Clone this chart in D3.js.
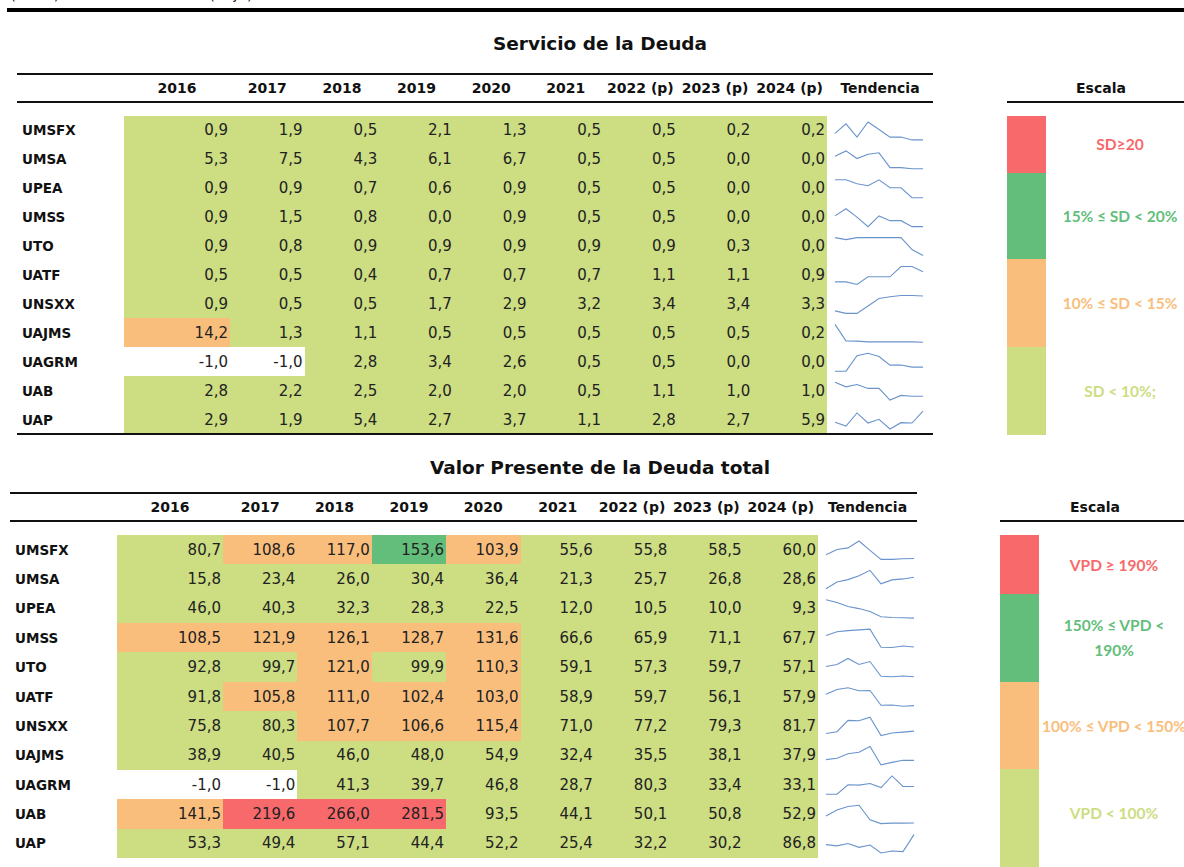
<!DOCTYPE html>
<html>
<head>
<meta charset="utf-8">
<script src="https://cdn.jsdelivr.net/npm/d3@7"></script>
<style>
  body { margin: 0; background: #fff; }
  svg { display: block; font-family: "DejaVu Sans", sans-serif; }
  .lbl { font-weight: bold; font-size: 13.5px; fill: #111; }
  .hdr { font-weight: bold; font-size: 14px; fill: #111; }
  .val { font-size: 15px; fill: #222; }
  .title { font-weight: bold; font-size: 18.5px; fill: #111; }
  .scl { font-family: Lato, sans-serif; font-weight: bold; font-size: 15.5px; }
</style>
</head>
<body>
<svg id="chart" width="1184" height="867"></svg>
<script>
// Data
var universities = ['UMSFX', 'UMSA', 'UPEA', 'UMSS', 'UTO', 'UATF', 'UNSXX', 'UAJMS', 'UAGRM', 'UAB', 'UAP'];
var years = ['2016', '2017', '2018', '2019', '2020', '2021', '2022 (p)', '2023 (p)', '2024 (p)'];

// Servicio de la Deuda (%)
var sdValues = [
    [0.9, 1.9, 0.5, 2.1, 1.3, 0.5, 0.5, 0.2, 0.2],
    [5.3, 7.5, 4.3, 6.1, 6.7, 0.5, 0.5, 0.0, 0.0],
    [0.9, 0.9, 0.7, 0.6, 0.9, 0.5, 0.5, 0.0, 0.0],
    [0.9, 1.5, 0.8, 0.0, 0.9, 0.5, 0.5, 0.0, 0.0],
    [0.9, 0.8, 0.9, 0.9, 0.9, 0.9, 0.9, 0.3, 0.0],
    [0.5, 0.5, 0.4, 0.7, 0.7, 0.7, 1.1, 1.1, 0.9],
    [0.9, 0.5, 0.5, 1.7, 2.9, 3.2, 3.4, 3.4, 3.3],
    [14.2, 1.3, 1.1, 0.5, 0.5, 0.5, 0.5, 0.5, 0.2],
    [-1.0, -1.0, 2.8, 3.4, 2.6, 0.5, 0.5, 0.0, 0.0],
    [2.8, 2.2, 2.5, 2.0, 2.0, 0.5, 1.1, 1.0, 1.0],
    [2.9, 1.9, 5.4, 2.7, 3.7, 1.1, 2.8, 2.7, 5.9]
];

// Valor Presente de la Deuda total (%)
var vpdValues = [
    [80.7, 108.6, 117.0, 153.6, 103.9, 55.6, 55.8, 58.5, 60.0],
    [15.8, 23.4, 26.0, 30.4, 36.4, 21.3, 25.7, 26.8, 28.6],
    [46.0, 40.3, 32.3, 28.3, 22.5, 12.0, 10.5, 10.0, 9.3],
    [108.5, 121.9, 126.1, 128.7, 131.6, 66.6, 65.9, 71.1, 67.7],
    [92.8, 99.7, 121.0, 99.9, 110.3, 59.1, 57.3, 59.7, 57.1],
    [91.8, 105.8, 111.0, 102.4, 103.0, 58.9, 59.7, 56.1, 57.9],
    [75.8, 80.3, 107.7, 106.6, 115.4, 71.0, 77.2, 79.3, 81.7],
    [38.9, 40.5, 46.0, 48.0, 54.9, 32.4, 35.5, 38.1, 37.9],
    [-1.0, -1.0, 41.3, 39.7, 46.8, 28.7, 80.3, 33.4, 33.1],
    [141.5, 219.6, 266.0, 281.5, 93.5, 44.1, 50.1, 50.8, 52.9],
    [53.3, 49.4, 57.1, 44.4, 52.2, 25.4, 32.2, 30.2, 86.8]
];

// Scale thresholds and labels (top to bottom: red, green, orange, light green)
var sdThresholds = [0, 10, 15, 20];
var vpdThresholds = [0, 100, 150, 190];
var sdScaleLabels = [['SD≥20'], ['15% ≤ SD <  20%'], ['10% ≤ SD < 15%'], ['SD < 10%;']];
var vpdScaleLabels = [['VPD ≥ 190%'], ['150% ≤ VPD <', '190%'], ['100% ≤ VPD < 150%'], ['VPD < 100%']];

var colors = {red: '#F8696B', green: '#63BE7B', orange: '#F9BE7C', light: '#CCDD82'};
var scaleColors = [colors.red, colors.green, colors.orange, colors.light];

var svg = d3.select('#chart');

var fmt = d3.formatLocale({decimal: ',', thousands: '.', grouping: [3], currency: ['', ''], minus: '-'}).format('.1f');

// cut-off heading at the very top
svg.append('text')
    .attr('x', 10)
    .attr('y', -1)
    .attr('class', 'val')
    .text('(En %)   Ratios de la deuda (baja)');

svg.append('line')
    .attr('x1', 7).attr('x2', 1184)
    .attr('y1', 10).attr('y2', 10)
    .attr('stroke', '#000')
    .attr('stroke-width', 4);

function drawTable(opt) {
    var g = svg.append('g');

    // column edges: wide first column, then equal columns
    var colX = d3.scaleLinear()
        .domain([0, 1, years.length])
        .range([opt.fillX, opt.fillX + 106, opt.fillEnd]);

    var rowY = d3.scaleBand()
        .domain(universities)
        .range([opt.rowTop, opt.rowBottom]);

    var color = d3.scaleThreshold()
        .domain(opt.thresholds)
        .range(['#ffffff', colors.light, colors.orange, colors.green, colors.red]);

    // title
    g.append('text')
        .attr('class', 'title')
        .attr('x', 600)
        .attr('y', opt.titleY)
        .attr('text-anchor', 'middle')
        .attr('dominant-baseline', 'central')
        .text(opt.title);

    // header rules
    g.append('line')
        .attr('x1', opt.lineX).attr('x2', opt.tendEnd)
        .attr('y1', opt.headTop).attr('y2', opt.headTop)
        .attr('stroke', '#111').attr('stroke-width', 2);
    g.append('line')
        .attr('x1', opt.lineX).attr('x2', opt.tendEnd)
        .attr('y1', opt.headTop + 28).attr('y2', opt.headTop + 28)
        .attr('stroke', '#111').attr('stroke-width', 2);

    // header labels
    g.selectAll('.hdr-year')
        .data(years)
        .enter()
        .append('text')
        .attr('class', 'hdr')
        .attr('x', (d, i) => (colX(i) + colX(i + 1)) / 2)
        .attr('y', opt.headTop + 14)
        .attr('text-anchor', 'middle')
        .attr('dominant-baseline', 'central')
        .text(d => d);

    g.append('text')
        .attr('class', 'hdr')
        .attr('x', (opt.fillEnd + opt.tendEnd) / 2)
        .attr('y', opt.headTop + 14)
        .attr('text-anchor', 'middle')
        .attr('dominant-baseline', 'central')
        .text('Tendencia');

    // rows
    var rows = g.selectAll('.row')
        .data(universities)
        .enter()
        .append('g')
        .attr('class', 'row');

    rows.append('text')
        .attr('class', 'lbl')
        .attr('x', opt.lineX + 5)
        .attr('y', d => rowY(d) + rowY.bandwidth() / 2)
        .attr('dominant-baseline', 'central')
        .text(d => d);

    rows.each(function(name, r) {
        var rowG = d3.select(this);
        var vals = opt.values[r];
        var y0 = Math.round(rowY(name));
        var y1 = Math.round(rowY(name) + rowY.bandwidth());

        rowG.selectAll('rect')
            .data(vals)
            .enter()
            .append('rect')
            .attr('x', (d, i) => Math.round(colX(i)))
            .attr('y', y0)
            .attr('width', (d, i) => Math.round(colX(i + 1)) - Math.round(colX(i)))
            .attr('height', y1 - y0)
            .attr('fill', d => color(d))
            .attr('shape-rendering', 'crispEdges');

        rowG.selectAll('.val')
            .data(vals)
            .enter()
            .append('text')
            .attr('class', 'val')
            .attr('x', (d, i) => colX(i + 1) - 2)
            .attr('y', rowY(name) + rowY.bandwidth() / 2)
            .attr('text-anchor', 'end')
            .attr('dominant-baseline', 'central')
            .text(d => fmt(d));

        // sparkline, scaled to its own range
        var sx = d3.scaleLinear()
            .domain([0, vals.length - 1])
            .range([opt.fillEnd + 8, opt.fillEnd + 96]);
        var sy = d3.scaleLinear()
            .domain(d3.extent(vals))
            .range([rowY(name) + rowY.bandwidth() - 5, rowY(name) + 6]);
        var line = d3.line()
            .x((d, i) => sx(i))
            .y(d => sy(d));
        rowG.append('path')
            .datum(vals)
            .attr('d', line)
            .attr('fill', 'none')
            .attr('stroke', '#6A94CC')
            .attr('stroke-width', 1.1);
    });

    if (opt.bottomLine) {
        g.append('line')
            .attr('x1', opt.lineX).attr('x2', opt.tendEnd)
            .attr('y1', opt.rowBottom).attr('y2', opt.rowBottom)
            .attr('stroke', '#111').attr('stroke-width', 2);
    }

    // scale legend
    g.append('text')
        .attr('class', 'hdr')
        .attr('x', opt.escalaX)
        .attr('y', opt.headTop + 14)
        .attr('text-anchor', 'middle')
        .attr('dominant-baseline', 'central')
        .text('Escala');
    g.append('line')
        .attr('x1', opt.scaleX).attr('x2', 1184)
        .attr('y1', opt.headTop + 28).attr('y2', opt.headTop + 28)
        .attr('stroke', '#111').attr('stroke-width', 2);

    opt.scaleBands.forEach(function(b, i) {
        g.append('rect')
            .attr('x', opt.scaleX)
            .attr('y', b[0])
            .attr('width', 39)
            .attr('height', b[1] - b[0])
            .attr('fill', scaleColors[i]);
        var lines = opt.scaleLabels[i];
        var cy = b[2];
        lines.forEach(function(t, k) {
            g.append('text')
                .attr('class', 'scl')
                .attr('x', opt.scaleTextX)
                .attr('y', cy + (k - (lines.length - 1) / 2) * 25)
                .attr('text-anchor', 'middle')
                .attr('dominant-baseline', 'central')
                .attr('fill', scaleColors[i])
                .text(t);
        });
    });
}

drawTable({
    title: 'Servicio de la Deuda',
    titleY: 43,
    values: sdValues,
    thresholds: sdThresholds,
    lineX: 17,
    fillX: 124,
    fillEnd: 827,
    tendEnd: 933,
    headTop: 74,
    rowTop: 116,
    rowBottom: 434,
    bottomLine: true,
    escalaX: 1101,
    scaleX: 1007,
    scaleTextX: 1120,
    scaleLabels: sdScaleLabels,
    scaleBands: [[116, 173, 144], [173, 259, 216], [259, 347, 303], [347, 435, 391]]
});

drawTable({
    title: 'Valor Presente de la Deuda total',
    titleY: 467,
    values: vpdValues,
    thresholds: vpdThresholds,
    lineX: 10,
    fillX: 117,
    fillEnd: 818,
    tendEnd: 917,
    headTop: 493,
    rowTop: 535,
    rowBottom: 858,
    bottomLine: false,
    escalaX: 1095,
    scaleX: 1000,
    scaleTextX: 1114,
    scaleLabels: vpdScaleLabels,
    scaleBands: [[535, 594, 565], [594, 682, 637], [682, 769, 726], [769, 867, 813]]
});
</script>
</body>
</html>
